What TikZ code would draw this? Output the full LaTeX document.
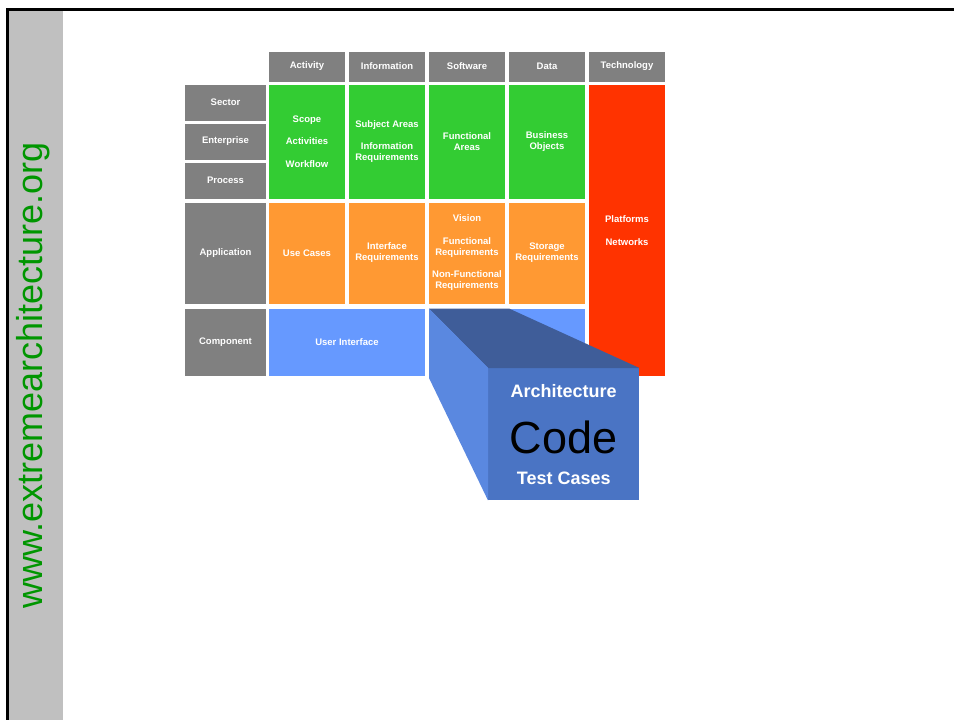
\documentclass[tikz,border=0pt]{standalone}
\usepackage{fontspec}
\setmainfont{Liberation Sans}
\usepackage{xcolor}
\usetikzlibrary{positioning}
\definecolor{hdrgray}{RGB}{128,128,128}
\definecolor{bandgray}{RGB}{192,192,192}
\definecolor{urlgreen}{RGB}{0,150,0}
\definecolor{bizgreen}{RGB}{51,204,51}
\definecolor{apporange}{RGB}{255,153,51}
\definecolor{compblue}{RGB}{102,153,255}
\definecolor{techred}{RGB}{255,51,0}
\definecolor{facetop}{RGB}{63,93,153}
\definecolor{faceleft}{RGB}{90,136,224}
\definecolor{facefront}{RGB}{74,116,196}

\begin{document}
\begin{tikzpicture}[x=1pt, y=-1pt,
  lbl/.style={inner sep=0pt, outer sep=0pt, align=center, text=white,
              font=\fontsize{9.5}{11}\selectfont\bfseries},
  hdr/.style={lbl, fill=hdrgray, minimum width=76pt, minimum height=30pt},
  rowhdr/.style={lbl, fill=hdrgray, minimum width=81pt},
  cell/.style={lbl, minimum width=76pt},
  facetext/.style={inner sep=0pt, anchor=base, text=white,
                   font=\fontsize{18}{22}\selectfont\bfseries}]
  \useasboundingbox (0,0) rectangle (954,720);
  \fill[bandgray] (9,11) rectangle (63,720);
  \draw[line width=3pt] (7.5,720) -- (7.5,9.5) -- (954,9.5);
  \node[rotate=90, anchor=base, inner sep=0pt, text=urlgreen,
        font=\fontsize{36}{42}\selectfont] (url) at (42.5,375.5) {www.extremearchitecture.org};

  \node[hdr] (act) at (307,66.5) {Activity};
  \node[hdr, right=4pt of act] (info) {Information};
  \node[hdr, right=4pt of info] (sw) {Software};
  \node[hdr, right=4pt of sw] (data) {Data};
  \node[hdr, right=4pt of data] (tech) {Technology};

  \node[rowhdr, minimum height=36pt] (sec) at (225.5,102.5) {Sector};
  \node[rowhdr, minimum height=36pt, below=3pt of sec] (ent) {Enterprise};
  \node[rowhdr, minimum height=36pt, below=3pt of ent] (proc) {Process};
  \node[rowhdr, minimum height=101pt, below=4pt of proc] (app) {Application};
  \node[rowhdr, minimum height=67pt, below=5pt of app] (comp) {Component};

  \node[cell, fill=bizgreen, minimum height=114pt] (scope) at (act |- ent)
    {Scope\\[11.5pt] Activities\\[11.5pt] Workflow};
  \node[cell, fill=bizgreen, minimum height=114pt] (subj) at (info |- ent)
    {Subject Areas\\[11.5pt] Information\\ Requirements};
  \node[cell, fill=bizgreen, minimum height=114pt] (func) at (sw |- ent)
    {Functional\\ Areas};
  \node[cell, fill=bizgreen, minimum height=114pt] (bobj) at (data |- ent)
    {Business\\ Objects};

  \node[cell, fill=apporange, minimum height=101pt] (uc) at (act |- app) {Use Cases};
  \node[cell, fill=apporange, minimum height=101pt] (ifreq) at (info |- app)
    {Interface\\ Requirements};
  \node[cell, fill=apporange, minimum height=101pt] (vision) at (sw |- app)
    {Vision\\[11.5pt] Functional\\ Requirements\\[11.5pt] Non-Functional\\ Requirements};
  \node[cell, fill=apporange, minimum height=101pt] (store) at (data |- app)
    {Storage\\ Requirements};

  \node[cell, fill=compblue, minimum width=156pt, minimum height=67pt, anchor=west]
    (ui) at (act.west |- comp) {User Interface};
  \node[cell, fill=compblue, minimum width=156pt, minimum height=67pt, anchor=west]
    (swcomp) at (sw.west |- comp) {};

  \node[cell, fill=techred, minimum height=291pt, below=3pt of tech] (plat) {};
  \node[lbl] (platnet) at (627,230.5) {Platforms\\[11.5pt] Networks};

  \node[fill=facefront, inner sep=0pt, minimum width=151pt, minimum height=132pt,
        anchor=north west] (codebox) at (488,368) {};
  \fill[facetop] (swcomp.north west) -- (data.west |- swcomp.north)
    -- (codebox.north east) -- (codebox.north west) -- cycle;
  \fill[faceleft] (swcomp.north west) -- (codebox.north west)
    -- (codebox.south west) -- (429,378) -- cycle;
  \node[facetext] (arch) at ([yshift=-29.5pt]codebox.north) {Architecture};
  \node[inner sep=0pt, anchor=base, font=\fontsize{45}{54}\selectfont]
    (code) at ([yshift=-85pt]codebox.north) {Code};
  \node[facetext] (tests) at ([yshift=-116.5pt]codebox.north) {Test Cases};
\end{tikzpicture}
\end{document}
